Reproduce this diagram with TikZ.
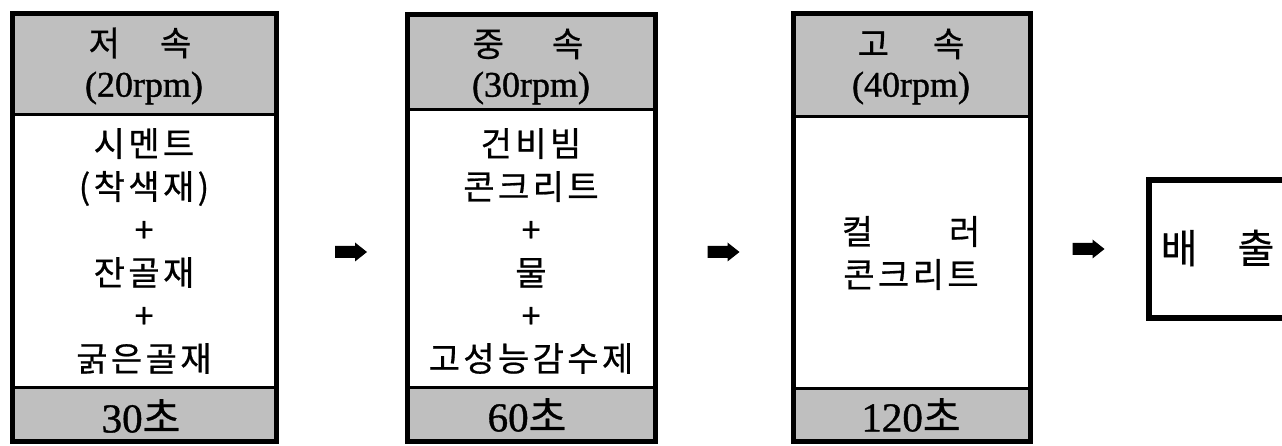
\documentclass[tikz,border=0pt]{standalone}
\usepackage{fontspec}
\setmainfont{Liberation Serif}
\newfontfamily\numf[FakeBold=1]{Liberation Serif}
\newfontfamily\kr[FakeBold=0.6]{Noto Sans CJK KR}
\newfontfamily\krsp[LetterSpace=10,FakeBold=0.6]{Noto Sans CJK KR}
\begin{document}
\begin{tikzpicture}[x=1pt,y=-1pt,
  frame/.style={draw, line width=5pt},
  band/.style={draw, line width=3pt, fill=black!25},
  hdr/.style={font=\kr\fontsize{34}{38}\selectfont, inner sep=0pt},
  rpm/.style={font=\numf\fontsize{36}{40}\selectfont, inner sep=0pt},
  tm/.style={font=\numf\fontsize{41}{44}\selectfont, inner sep=0pt},
  body/.style={font=\krsp\fontsize{34}{43}\selectfont, align=center, inner sep=0pt},
  blockarrow/.pic={\fill (-16,-6) -- (4,-6) -- (4,-9.5) -- (16,0) -- (4,9.5) -- (4,6) -- (-16,6) -- cycle;}
]
\useasboundingbox (0,0) rectangle (1282,446);

% ---------- box 1 ----------
\path[band] (12,14) rectangle (276,115);
\path[band] (12,387) rectangle (276,441);
\node[frame, minimum width=264pt, minimum height=427pt, inner sep=0pt] (b1) at (144,227.5) {};
\node[hdr] (b1h) at (140,43) {저\hspace{40pt}속};
\node[rpm] (b1r) at (144,88) {(20rpm)};
\node[body] (b1b) at (144,251) {시멘트\\(착색재)\\+\\잔골재\\+\\굵은골재};
\node[tm] (b1t) at (141,416) {30{\kr 초}};

% ---------- box 2 ----------
\path[band] (407,15) rectangle (655,110);
\path[band] (407,387) rectangle (655,441);
\node[frame, minimum width=248pt, minimum height=426pt, inner sep=0pt] (b2) at (531,228) {};
\node[hdr] (b2h) at (528,44) {중\hspace{48pt}속};
\node[rpm] (b2r) at (531,88) {(30rpm)};
\node[body] (b2b) at (531,251) {건비빔\\콘크리트\\+\\물\\+\\고성능감수제};
\node[tm] (b2t) at (527,415) {60{\kr 초}};

% ---------- box 3 ----------
\path[band] (793,14) rectangle (1030,117);
\path[band] (793,388) rectangle (1030,441);
\node[frame, minimum width=237pt, minimum height=427pt, inner sep=0pt] (b3) at (911.5,227.5) {};
\node[hdr] (b3h) at (911,44) {고\hspace{44pt}속};
\node[rpm] (b3r) at (911,88) {(40rpm)};
\node[body] (b3b) at (911,253) {컬\hspace{76pt}러\\콘크리트};
\node[tm] (b3t) at (911,415) {120{\kr 초}};

% ---------- output box ----------
\node[draw, line width=6pt, minimum width=141pt, minimum height=138pt, inner sep=0pt] (b4) at (1219.5,249) {};
\node[font=\kr\fontsize{40}{44}\selectfont, inner sep=0pt] (b4t) at (1217.5,248) {배\hspace{40pt}출};

% ---------- arrows ----------
\pic (ar1) at (351,252) {blockarrow};
\pic (ar2) at (723.5,252) {blockarrow};
\pic (ar3) at (1088.5,249) {blockarrow};
\end{tikzpicture}
\end{document}
